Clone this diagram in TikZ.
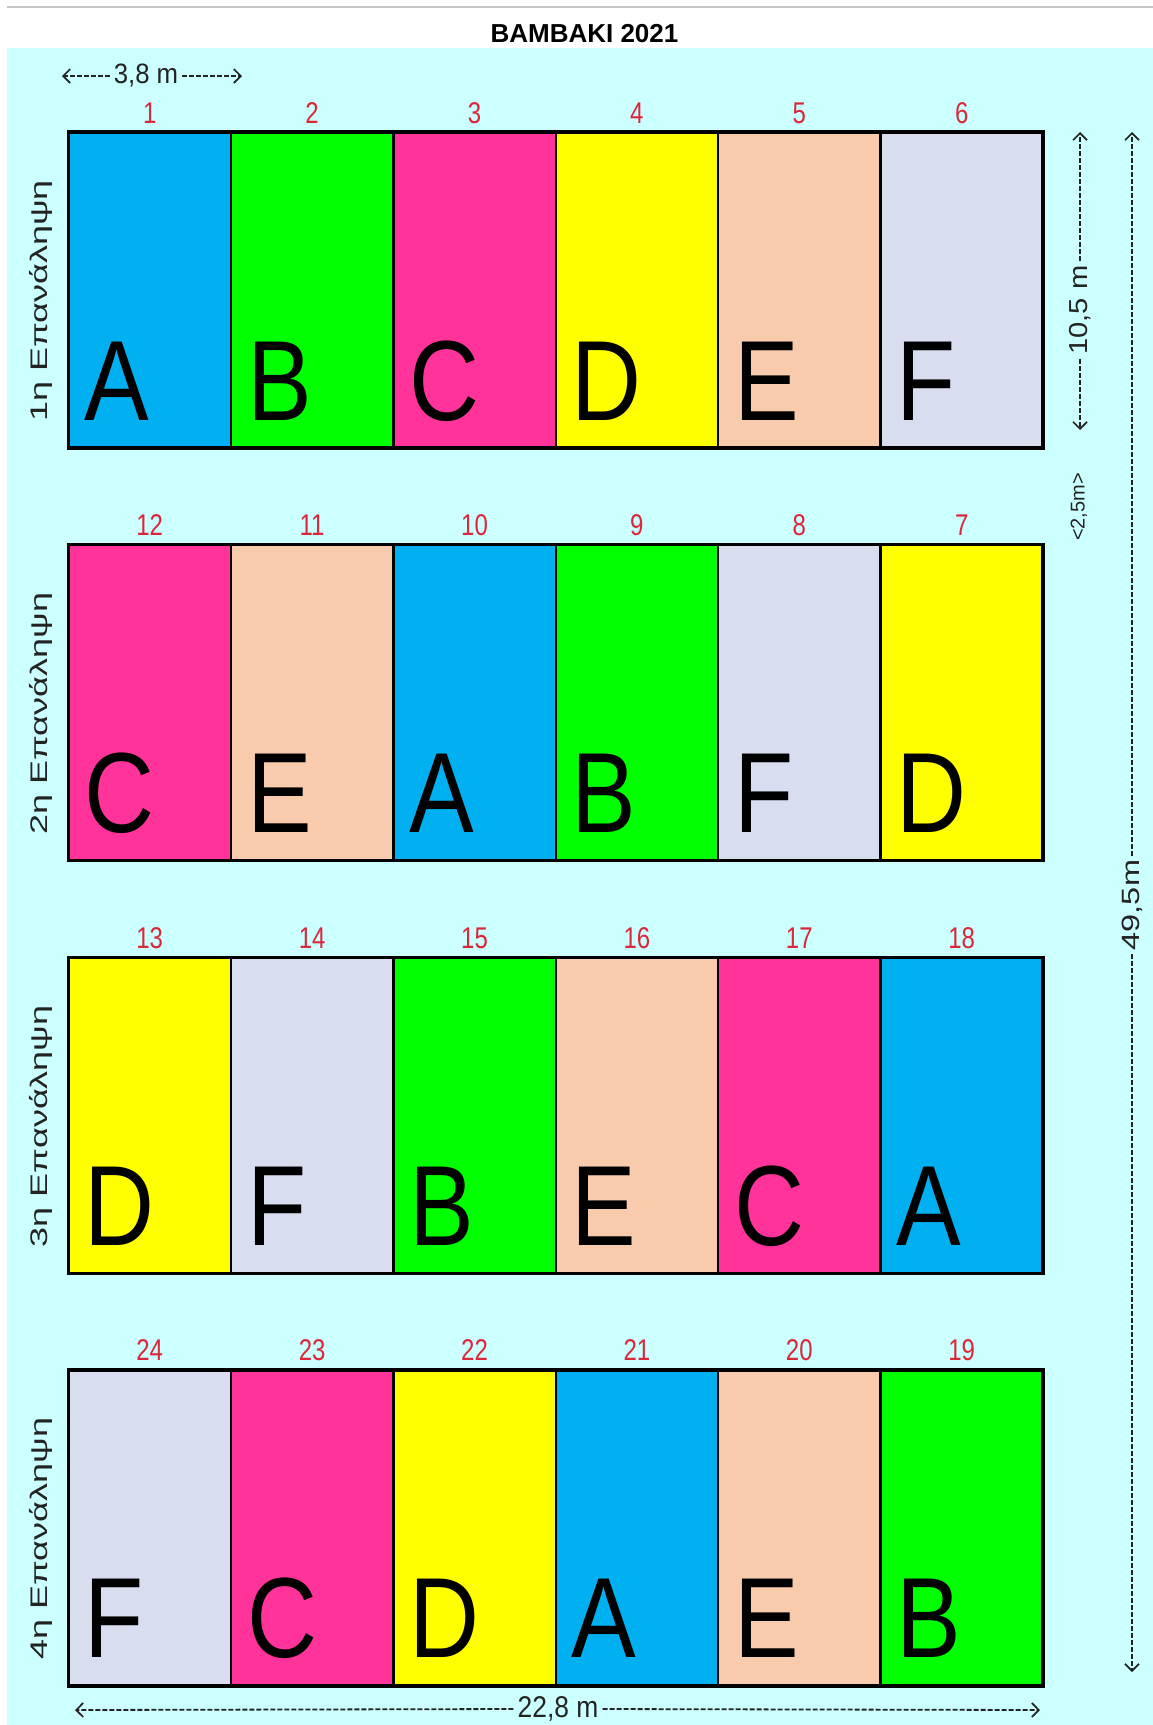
\documentclass[tikz,border=0pt]{standalone}
\usepackage{fontspec}
\usepackage{graphicx}
\setmainfont{Liberation Sans}
\usetikzlibrary{arrows.meta,calc}
\definecolor{cA}{RGB}{0,176,240}
\definecolor{cB}{RGB}{0,255,0}
\definecolor{cC}{RGB}{255,51,153}
\definecolor{cD}{RGB}{255,255,0}
\definecolor{cE}{RGB}{248,203,173}
\definecolor{cF}{RGB}{217,221,240}
\definecolor{bgcyan}{RGB}{204,255,255}
\definecolor{numred}{RGB}{218,40,58}
\definecolor{inkgray}{RGB}{35,35,35}
\begin{document}
\begin{tikzpicture}[x=1pt,y=-1pt,
  cellbox/.style={draw=black,line width=2.4pt,minimum width=162.4pt,minimum height=316pt,inner sep=0pt},
  blockframe/.style={draw=black,line width=3.4pt,minimum width=974.4pt,minimum height=316pt,inner sep=0pt},
  bigletter/.style={inner sep=0pt,anchor=base west,text=black,font=\fontsize{114}{114}\selectfont},
  numlabel/.style={inner sep=0pt,anchor=base,text=numred,font=\fontsize{30}{30}\selectfont},
  replabel/.style={inner sep=0pt,rotate=90,text=inkgray,font=\fontsize{24}{24}\selectfont},
  dimtext/.style={inner sep=4pt,text=inkgray},
  dimline/.style={draw=inkgray,line width=1.8pt,dash pattern=on 5pt off 2pt},
  dimtip/.style={-{Straight Barb[length=7pt,width=14pt,line width=1.7pt]}}
]
\useasboundingbox (0,0) rectangle (1153,1725);
% background
\fill[white] (0,0) rectangle (1153,1725);
\fill[bgcyan] (7,48) rectangle (1153,1725);
\draw[gray!45,line width=1.5pt] (7,7) -- (1153,7);
\node[inner sep=0pt,anchor=base,font=\bfseries\fontsize{26}{26}\selectfont] (title) at (584.5,42) {BAMBAKI 2021};

% cells
\foreach \r/\c/\n/\l in {
  0/0/1/A,0/1/2/B,0/2/3/C,0/3/4/D,0/4/5/E,0/5/6/F,
  1/0/12/C,1/1/11/E,1/2/10/A,1/3/9/B,1/4/8/F,1/5/7/D,
  2/0/13/D,2/1/14/F,2/2/15/B,2/3/16/E,2/4/17/C,2/5/18/A,
  3/0/24/F,3/1/23/C,3/2/22/D,3/3/21/A,3/4/20/E,3/5/19/B}{
  \pgfmathsetmacro\xl{68.5+162.4*\c}
  \pgfmathsetmacro\yt{132+412.6*\r}
  \node[cellbox,fill=c\l] (p\n) at (\xl+81.2,\yt+158) {};
  \node[bigletter] (L\n) at (\xl+16,\yt+288) {\scalebox{0.85}[1]{\l}};
  \node[numlabel] (n\n) at (\xl+81.2,\yt-9) {\scalebox{0.8}[1]{\n}};
}
\foreach \r/\k in {0/1,1/2,2/3,3/4}{
  \pgfmathsetmacro\yc{132+412.6*\r+158}
  \node[blockframe] (blk\k) at (555.7,\yc) {};
  \node[replabel] (rep\k) at (41,\yc+11) {\scalebox{1.5}[1]{\k η Επανάληψη}};
}

% top dimension 3,8 m
\coordinate (d38a) at (62,76);
\coordinate (d38b) at (242,76);
\node[dimtext,font=\fontsize{28}{28}\selectfont] (t38) at (146,76) {\scalebox{0.92}[1]{3,8 m}};
\draw[dimline,dimtip] (t38.west) -- (d38a);
\draw[dimline,dimtip] (t38.east) -- (d38b);

% bottom dimension 22,8 m
\coordinate (d228a) at (75,1710);
\coordinate (d228b) at (1040,1710);
\node[dimtext,font=\fontsize{30}{30}\selectfont] (t228) at (558,1709) {\scalebox{0.88}[1]{22,8 m}};
\draw[dimline,dimtip] (t228.west) -- (d228a);
\draw[dimline,dimtip] (t228.east) -- (d228b);

% right dimension 10,5 m
\coordinate (d105a) at (1080,430);
\coordinate (d105b) at (1080,132);
\node[dimtext,rotate=90,font=\fontsize{26}{26}\selectfont] (t105) at (1080,310) {\scalebox{1.12}[1]{10,5 m}};
\draw[dimline,dimtip] (t105.west) -- (d105a);
\draw[dimline,dimtip] (t105.east) -- (d105b);

% 2,5 m gap
\node[inner sep=0pt,rotate=90,text=inkgray,font=\fontsize{20}{20}\selectfont] (t25) at (1079,507) {<2,5m>};

% right dimension 49,5 m
\coordinate (d495a) at (1132,1672);
\coordinate (d495b) at (1132,132);
\node[dimtext,rotate=90,font=\fontsize{25}{25}\selectfont] (t495) at (1132,905) {\scalebox{1.3}[1]{49,5m}};
\draw[dimline,dimtip] (t495.west) -- (d495a);
\draw[dimline,dimtip] (t495.east) -- (d495b);
\end{tikzpicture}
\end{document}
